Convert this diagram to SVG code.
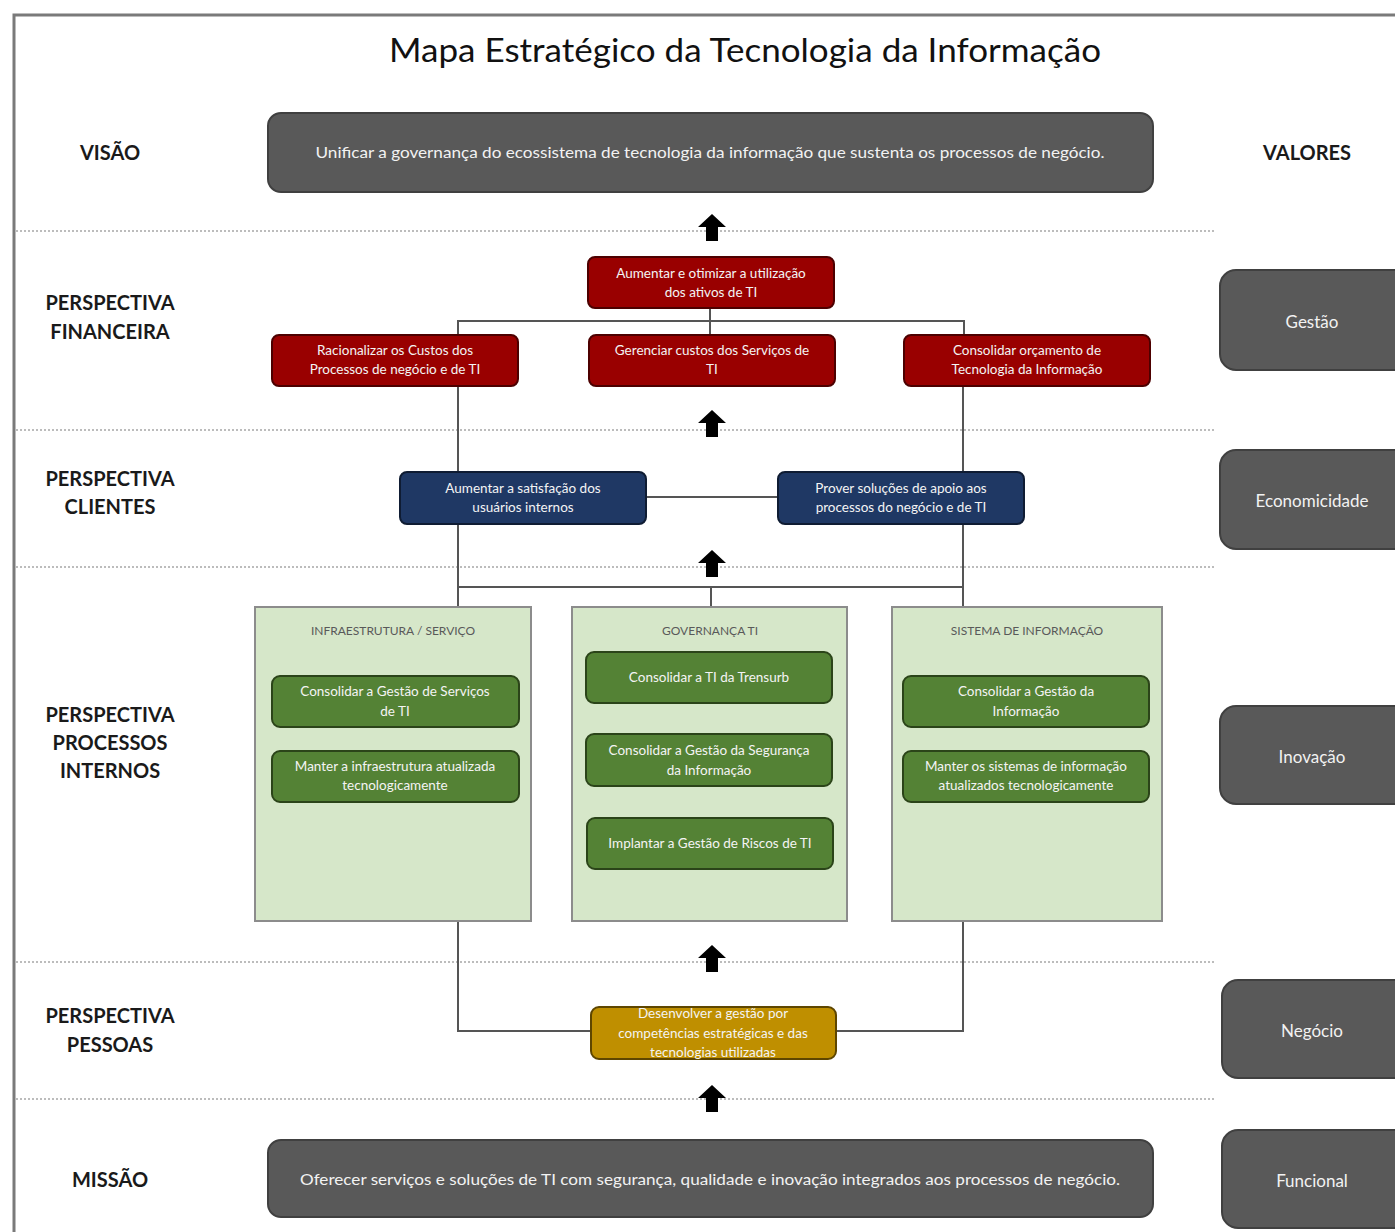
<svg xmlns="http://www.w3.org/2000/svg" width="1395" height="1232" viewBox="0 0 1395 1232">
<style>
.bg{fill:#ffffff}
.frame{fill:none;stroke:#7a7a7a;stroke-width:3}
.title{font-family:Lato,"Open Sans","Liberation Sans",sans-serif;font-size:32px;fill:#111111;text-anchor:middle}
.lbl{font-family:Lato,"Open Sans","Liberation Sans",sans-serif;font-size:20px;font-weight:bold;fill:#1a1a1a;text-anchor:middle}
.dark{fill:#595959;stroke:#404040;stroke-width:2}
.darkt{font-family:Lato,"Open Sans","Liberation Sans",sans-serif;font-size:15px;fill:#f2f2f2;text-anchor:middle}
.valt{font-family:Lato,"Open Sans","Liberation Sans",sans-serif;font-size:17px;fill:#f2f2f2;text-anchor:middle}
.red{fill:#990000;stroke:#4d0000;stroke-width:2}
.blue{fill:#1f3864;stroke:#0f1c33;stroke-width:2}
.green{fill:#548235;stroke:#2b4419;stroke-width:2}
.gold{fill:#bf8f00;stroke:#5e4600;stroke-width:2}
.bt{font-family:Lato,"Open Sans","Liberation Sans",sans-serif;font-size:13.5px;fill:#f4f4f4;text-anchor:middle}
.cont{fill:#d6e7c9;stroke:#8c8c8c;stroke-width:2}
.ct{font-family:Lato,"Open Sans","Liberation Sans",sans-serif;font-size:12px;fill:#595959;text-anchor:middle}
.dot{stroke:#a6a6a6;stroke-width:1.5;stroke-dasharray:2 2;fill:none}
.conn{stroke:#555555;stroke-width:2;fill:none}
.arrow{fill:#000000}
</style>
<defs>
<path id="arr" class="arrow" d="M0,0 L14,13 L6,13 L6,27 L-6,27 L-6,13 L-14,13 Z"/>
</defs>
<rect class="bg" x="0" y="0" width="1395" height="1232"/>
<rect class="frame" x="14" y="15" width="1400" height="1240"/>

<text class="title" x="745" y="62" textLength="712" lengthAdjust="spacingAndGlyphs">Mapa Estratégico da Tecnologia da Informação</text>

<g id="separators">
<line class="dot" x1="16" y1="231" x2="1215" y2="231"/>
<line class="dot" x1="16" y1="430" x2="1215" y2="430"/>
<line class="dot" x1="16" y1="567" x2="1215" y2="567"/>
<line class="dot" x1="16" y1="962" x2="1215" y2="962"/>
<line class="dot" x1="16" y1="1099" x2="1215" y2="1099"/>
</g>

<g id="labels">
<text class="lbl" x="110" y="160">VISÃO</text>
<text class="lbl" x="1307" y="160">VALORES</text>
<text class="lbl" x="110" y="310">PERSPECTIVA</text>
<text class="lbl" x="110" y="339">FINANCEIRA</text>
<text class="lbl" x="110" y="486">PERSPECTIVA</text>
<text class="lbl" x="110" y="514">CLIENTES</text>
<text class="lbl" x="110" y="722">PERSPECTIVA</text>
<text class="lbl" x="110" y="750">PROCESSOS</text>
<text class="lbl" x="110" y="778">INTERNOS</text>
<text class="lbl" x="110" y="1023">PERSPECTIVA</text>
<text class="lbl" x="110" y="1052">PESSOAS</text>
<text class="lbl" x="110" y="1187">MISSÃO</text>
</g>

<g id="connectors">
<polyline class="conn" points="710,308 710,321"/>
<polyline class="conn" points="458,335 458,321 964,321 964,335"/>
<polyline class="conn" points="710,321 710,335"/>
<polyline class="conn" points="458,386 458,472"/>
<polyline class="conn" points="963,386 963,472"/>
<polyline class="conn" points="646,497 778,497"/>
<polyline class="conn" points="458,524 458,607"/>
<polyline class="conn" points="963,524 963,607"/>
<polyline class="conn" points="458,587 963,587"/>
<polyline class="conn" points="711,587 711,607"/>
<polyline class="conn" points="458,921 458,1031 591,1031"/>
<polyline class="conn" points="963,921 963,1031 836,1031"/>
<use href="#arr" x="712" y="214"/>
<use href="#arr" x="712" y="410"/>
<use href="#arr" x="712" y="550"/>
<use href="#arr" x="712" y="945"/>
<use href="#arr" x="712" y="1085"/>
</g>

<g id="visao">
<rect class="dark" x="268" y="113" width="885" height="79" rx="13"/>
<text class="darkt" x="710" y="158" textLength="789" lengthAdjust="spacingAndGlyphs">Unificar a governança do ecossistema de tecnologia da informação que sustenta os processos de negócio.</text>
</g>

<g id="fin-top">
<rect class="red" x="588" y="257" width="246" height="51" rx="7"/>
<text class="bt" x="711" y="278">Aumentar e otimizar a utilização</text>
<text class="bt" x="711" y="297">dos ativos de TI</text>
</g>
<g id="fin-left">
<rect class="red" x="272" y="335" width="246" height="51" rx="7"/>
<text class="bt" x="395" y="355">Racionalizar os Custos dos</text>
<text class="bt" x="395" y="374">Processos de negócio e de TI</text>
</g>
<g id="fin-mid">
<rect class="red" x="589" y="335" width="246" height="51" rx="7"/>
<text class="bt" x="712" y="355">Gerenciar custos dos Serviços de</text>
<text class="bt" x="712" y="374">TI</text>
</g>
<g id="fin-right">
<rect class="red" x="904" y="335" width="246" height="51" rx="7"/>
<text class="bt" x="1027" y="355">Consolidar orçamento de</text>
<text class="bt" x="1027" y="374">Tecnologia da Informação</text>
</g>

<g id="cli-left">
<rect class="blue" x="400" y="472" width="246" height="52" rx="7"/>
<text class="bt" x="523" y="493">Aumentar a satisfação dos</text>
<text class="bt" x="523" y="512">usuários internos</text>
</g>
<g id="cli-right">
<rect class="blue" x="778" y="472" width="246" height="52" rx="7"/>
<text class="bt" x="901" y="493">Prover soluções de apoio aos</text>
<text class="bt" x="901" y="512">processos do negócio e de TI</text>
</g>

<g id="cont-infra">
<rect class="cont" x="255" y="607" width="276" height="314"/>
<text class="ct" x="393" y="635">INFRAESTRUTURA / SERVIÇO</text>
</g>
<g id="cont-gov">
<rect class="cont" x="572" y="607" width="275" height="314"/>
<text class="ct" x="710" y="635">GOVERNANÇA TI</text>
</g>
<g id="cont-sis">
<rect class="cont" x="892" y="607" width="270" height="314"/>
<text class="ct" x="1027" y="635">SISTEMA DE INFORMAÇÃO</text>
</g>

<g id="pi-1">
<rect class="green" x="272" y="676" width="247" height="51" rx="8"/>
<text class="bt" x="395" y="696">Consolidar a Gestão de Serviços</text>
<text class="bt" x="395" y="716">de TI</text>
</g>
<g id="pi-2">
<rect class="green" x="272" y="751" width="247" height="51" rx="8"/>
<text class="bt" x="395" y="771">Manter a infraestrutura atualizada</text>
<text class="bt" x="395" y="790">tecnologicamente</text>
</g>
<g id="pi-3">
<rect class="green" x="586" y="652" width="246" height="51" rx="8"/>
<text class="bt" x="709" y="682">Consolidar a TI da Trensurb</text>
</g>
<g id="pi-4">
<rect class="green" x="586" y="734" width="246" height="52" rx="8"/>
<text class="bt" x="709" y="755">Consolidar a Gestão da Segurança</text>
<text class="bt" x="709" y="775">da Informação</text>
</g>
<g id="pi-5">
<rect class="green" x="587" y="818" width="246" height="51" rx="8"/>
<text class="bt" x="710" y="848">Implantar a Gestão de Riscos de TI</text>
</g>
<g id="pi-6">
<rect class="green" x="903" y="676" width="246" height="51" rx="8"/>
<text class="bt" x="1026" y="696">Consolidar a Gestão da</text>
<text class="bt" x="1026" y="716">Informação</text>
</g>
<g id="pi-7">
<rect class="green" x="903" y="751" width="246" height="51" rx="8"/>
<text class="bt" x="1026" y="771">Manter os sistemas de informação</text>
<text class="bt" x="1026" y="790">atualizados tecnologicamente</text>
</g>

<g id="pessoas">
<rect class="gold" x="591" y="1007" width="245" height="52" rx="8"/>
<text class="bt" x="713" y="1018">Desenvolver a gestão por</text>
<text class="bt" x="713" y="1038">competências estratégicas e das</text>
<text class="bt" x="713" y="1057">tecnologias utilizadas</text>
</g>

<g id="missao">
<rect class="dark" x="268" y="1140" width="885" height="77" rx="13"/>
<text class="darkt" x="710" y="1185" textLength="820" lengthAdjust="spacingAndGlyphs">Oferecer serviços e soluções de TI com segurança, qualidade e inovação integrados aos processos de negócio.</text>
</g>

<g id="val-gestao">
<rect class="dark" x="1220" y="270" width="190" height="100" rx="16"/>
<text class="valt" x="1312" y="328">Gestão</text>
</g>
<g id="val-econ">
<rect class="dark" x="1220" y="450" width="190" height="99" rx="16"/>
<text class="valt" x="1312" y="507">Economicidade</text>
</g>
<g id="val-inov">
<rect class="dark" x="1220" y="706" width="190" height="98" rx="16"/>
<text class="valt" x="1312" y="763">Inovação</text>
</g>
<g id="val-neg">
<rect class="dark" x="1222" y="980" width="190" height="98" rx="16"/>
<text class="valt" x="1312" y="1037">Negócio</text>
</g>
<g id="val-func">
<rect class="dark" x="1222" y="1130" width="190" height="98" rx="16"/>
<text class="valt" x="1312" y="1187">Funcional</text>
</g>
</svg>
